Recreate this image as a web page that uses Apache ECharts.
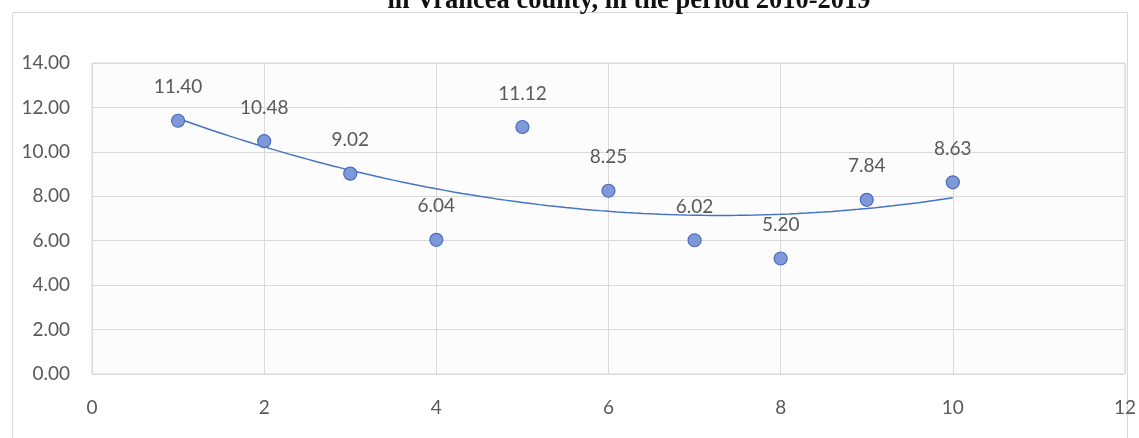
<!DOCTYPE html>
<html><head><meta charset="utf-8">
<script src="https://cdn.jsdelivr.net/npm/echarts@6/dist/echarts.min.js"></script>
<style>html,body{margin:0;padding:0;background:#fff}#c{width:1139px;height:438px}</style>
</head><body><div id="c"></div>
<script>
const titleText = 'in Vrancea county, in the period 2010-2019';
const xValues = [1, 2, 3, 4, 5, 6, 7, 8, 9, 10];
const yValues = [11.40, 10.48, 9.02, 6.04, 11.12, 8.25, 6.02, 5.20, 7.84, 8.63];
const xTicks = [0, 2, 4, 6, 8, 10, 12];
const yTicks = [0, 2, 4, 6, 8, 10, 12, 14];

// Quadratic least-squares trendline (Excel polynomial order 2) derived from the data
function polyFit2(xs, ys) {
  let n = xs.length, s = [0,0,0,0,0], t = [0,0,0];
  for (let i = 0; i < n; i++) {
    let p = 1;
    for (let k = 0; k < 5; k++) { s[k] += p; if (k < 3) t[k] += p * ys[i]; p *= xs[i]; }
  }
  const A = [[s[0], s[1], s[2], t[0]], [s[1], s[2], s[3], t[1]], [s[2], s[3], s[4], t[2]]];
  for (let i = 0; i < 3; i++) {
    for (let j = i + 1; j < 3; j++) {
      const f = A[j][i] / A[i][i];
      for (let k = i; k < 4; k++) A[j][k] -= f * A[i][k];
    }
  }
  const c = [0,0,0];
  for (let i = 2; i >= 0; i--) {
    let v = A[i][3];
    for (let k = i + 1; k < 3; k++) v -= A[i][k] * c[k];
    c[i] = v / A[i][i];
  }
  return c;
}
const coef = polyFit2(xValues, yValues);
const trend = [];
for (let i = 0; i <= 90; i++) {
  const x = xValues[0] + i * (xValues[xValues.length - 1] - xValues[0]) / 90;
  trend.push([x, coef[0] + coef[1] * x + coef[2] * x * x]);
}

const chart = echarts.init(document.getElementById('c'), null, {renderer: 'canvas'});
const labelFont = 'Lato, "Open Sans", sans-serif';
chart.setOption({
  animation: false,
  backgroundColor: '#ffffff',
  graphic: [
    {type: 'rect', shape: {x: 12.5, y: 12.5, width: 1115, height: 440}, style: {fill: 'none', stroke: '#d9d9d9', lineWidth: 1}, z: -1},
    {type: 'text', x: 629, y: 1, style: {text: titleText, font: 'bold 26.5px "Liberation Serif", "Times New Roman", serif', fill: '#111', align: 'center', verticalAlign: 'middle'}}
  ],
  grid: {left: 92, right: 14, top: 63, bottom: 64, show: true, borderColor: '#d9d9d9', borderWidth: 1, backgroundColor: '#fcfcfc'},
  xAxis: {
    type: 'value', min: xTicks[0], max: xTicks[xTicks.length - 1], interval: 2,
    axisLine: {show: false}, axisTick: {show: false},
    splitLine: {show: true, lineStyle: {color: '#d9d9d9', width: 1}},
    axisLabel: {color: '#595959', fontSize: 19, fontFamily: labelFont, margin: 24}
  },
  yAxis: {
    type: 'value', min: yTicks[0], max: yTicks[yTicks.length - 1], interval: 2,
    axisLine: {show: false}, axisTick: {show: false},
    splitLine: {show: true, lineStyle: {color: '#d9d9d9', width: 1}},
    axisLabel: {color: '#595959', fontSize: 19, fontFamily: labelFont, margin: 22, formatter: v => v.toFixed(2)}
  },
  series: [
    {
      type: 'line', data: trend, showSymbol: false, smooth: false,
      lineStyle: {color: '#4472c4', width: 1.5}, z: 2, silent: true
    },
    {
      type: 'scatter', data: xValues.map((x, i) => [x, yValues[i]]),
      symbol: 'circle', symbolSize: 13,
      itemStyle: {color: '#7e98d8', borderColor: '#4a6cc0', borderWidth: 1.2, opacity: 1},
      label: {show: true, position: 'top', distance: 17, color: '#595959', fontSize: 19, fontFamily: labelFont, formatter: p => p.value[1].toFixed(2)},
      z: 3
    }
  ]
});
</script></body></html>
